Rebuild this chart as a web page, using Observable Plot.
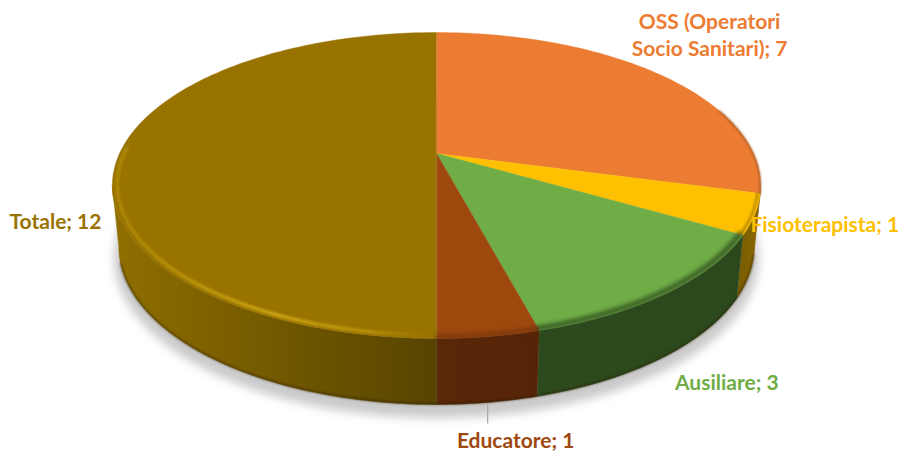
<!DOCTYPE html>
<html>
<head>
<meta charset="utf-8">
<script src="https://cdn.jsdelivr.net/npm/d3@7"></script>
<script src="https://cdn.jsdelivr.net/npm/@observablehq/plot@0.6"></script>
<style>
html,body{margin:0;padding:0;background:#fff}
svg{display:block}
</style>
</head>
<body>
<div id="chart"></div>
<script>
// Data
const names = ["OSS (Operatori\nSocio Sanitari)", "Fisioterapista", "Ausiliare", "Educatore", "Totale"];
const values = [7, 1, 3, 1, 12];
const topColors = ["#EC7C32", "#FFC000", "#70AD47", "#9E480E", "#997300"];
const rimColors = ["#8f4c1d", "#8a6800", "#2b4a1c", "#5a2608", "#c39a10"];
const labelDx = [50, 70, 59, 27, -64];
const labelDy = [-41, 9, 89, 103, 67];

// Projection of the tilted disc (perspective)
const W = 901, H = 452;
const cx = 436, topY = 153, R = 317, D = 146.3, k = 0.209;
const TOP = {y0: topY, sx: 1, sy: 1};
const BOT = {y0: 213.5, sx: 0.98, sy: 1.03};
const project = (deg, rf = 1, f = TOP) => {
  const a = deg * Math.PI / 180, u = Math.sin(a) * rf, v = -Math.cos(a) * rf;
  const w = 1 - k * v;
  return {x: cx + f.sx * R * u / w, y: f.y0 + f.sy * D * v / w};
};
const arc = (a0, a1, rf = 1, f = TOP) => {
  const n = Math.max(2, Math.ceil(Math.abs(a1 - a0)));
  return d3.range(n + 1).map(i => project(a0 + (a1 - a0) * i / n, rf, f));
};

// Slice angles from the values
const total = d3.sum(values);
let run = 0;
const slices = values.map((v, i) => {
  const a0 = run / total * 360; run += v; const a1 = run / total * 360;
  return {i, name: names[i], value: v, a0, a1, mid: (a0 + a1) / 2, color: topColors[i], rim: rimColors[i]};
});

const wallFill = ["url(#wOSS)", "url(#wFis)", "url(#wAus)", "url(#wEdu)", "url(#wTot)"];
const marks = [];

// Shadow beneath the disc
marks.push(Plot.line(arc(0, 360, 1.014, {...BOT, y0: BOT.y0 + 10}), {x: "x", y: "y", fill: "#bdbdbd", stroke: "none", imageFilter: "blur(5px)", fillOpacity: 0.8}));

// Walls, visible front range only
const front0 = 102, front1 = 258;
for (const s of slices) {
  const a0 = Math.max(s.a0, front0), a1 = Math.min(s.a1, front1);
  if (a1 <= a0) continue;
  const pts = [...arc(a0, a1), ...arc(a1, a0, 1, BOT)];
  marks.push(Plot.line(pts, {x: "x", y: "y", fill: wallFill[s.i], stroke: wallFill[s.i], strokeWidth: 0.5}));
}
// Dark foot of the wall
marks.push(Plot.line(arc(front0 + 3, front1 - 6, 1, {...BOT, y0: BOT.y0 - 0.5}), {x: "x", y: "y", stroke: "#2a1c00", strokeWidth: 2, strokeOpacity: 0.5, imageFilter: "blur(1px)"}));

// Top faces
for (const s of slices) {
  const pts = [project(0, 0), ...arc(s.a0, s.a1)];
  marks.push(Plot.line(pts, {x: "x", y: "y", fill: s.color, stroke: s.color, strokeWidth: 0.4}));
}

// Bevel on the rim, front part of each slice only
const rimOf = [
  {i: 0, from: 72, to: 105, rf: 0.999, w: 1.6, blur: 0.8, op: 0.75, stroke: rimColors[0]},
  {i: 1, from: 105, to: 120, rf: 0.992, w: 2.5, blur: 1.2, op: 0.6, stroke: rimColors[1]},
  {i: 2, from: 120, to: 165, rf: 0.99, w: 5, blur: 2, op: 0.85, stroke: rimColors[2]},
  {i: 3, from: 165, to: 180, rf: 0.992, w: 4, blur: 2, op: 0.55, stroke: rimColors[3]},
  {i: 4, from: 180.5, to: 272, rf: 0.985, w: 3.5, blur: 1.2, op: 1, stroke: "url(#rimT)"}
];
for (const r of rimOf) {
  marks.push(Plot.line(arc(r.from, r.to, r.rf), {x: "x", y: "y", stroke: r.stroke, strokeWidth: r.w, strokeOpacity: r.op, imageFilter: `blur(${r.blur}px)`}));
}

// Leader line for Educatore
const eduFoot = project(slices[3].mid, 1, BOT);
marks.push(Plot.link([eduFoot], {x1: "x", y1: d => d.y + 2, x2: "x", y2: d => d.y + 21, stroke: "#a6a6a6", strokeWidth: 1.2}));

// Labels
for (const s of slices) {
  marks.push(Plot.text([s], {
    x: d => project(d.mid).x,
    y: d => project(d.mid).y,
    dx: labelDx[s.i],
    dy: labelDy[s.i],
    text: d => `${d.name}; ${d.value}`,
    fill: s.color,
    fontFamily: "Lato, Carlito, sans-serif",
    fontWeight: 700,
    fontSize: 21,
    lineHeight: 1.29,
    textAnchor: "middle",
    lineAnchor: "middle"
  }));
}

const chart = Plot.plot({
  width: W, height: H,
  margin: 0,
  x: {domain: [0, W], range: [0, W], axis: null},
  y: {domain: [0, H], range: [0, H], axis: null},
  style: {background: "#fff"},
  marks
});

// Gradients
const defs = d3.select(chart).insert("defs", ":first-child");
const grad = (id, x1, x2, stops) => {
  const g = defs.append("linearGradient").attr("id", id).attr("gradientUnits", "userSpaceOnUse")
    .attr("x1", x1).attr("x2", x2).attr("y1", 0).attr("y2", 0);
  stops.forEach(([o, c, op = 1]) => g.append("stop").attr("offset", o).attr("stop-color", c).attr("stop-opacity", op));
};
grad("wTot", 113, 436, [[0, "#8f6f00"], [0.35, "#7b5f00"], [0.7, "#675000"], [1, "#574400"]]);
grad("wEdu", 436, 537, [[0, "#5a2709"], [1, "#562407"]]);
grad("wAus", 537, 740, [[0, "#2d4a1e"], [1, "#2c491d"]]);
grad("wFis", 735, 760, [[0, "#765a00"], [1, "#8a6900"]]);
grad("wOSS", 740, 760, [[0, "#8a4d20"], [1, "#a05a28"]]);
grad("rimT", 113, 436, [[0, "#b08c04", 0.8], [0.5, "#cda514", 1], [0.8, "#bd960c", 0.8], [1, "#a07c02", 0.1]]);

document.getElementById("chart").appendChild(chart);
</script>
</body>
</html>
